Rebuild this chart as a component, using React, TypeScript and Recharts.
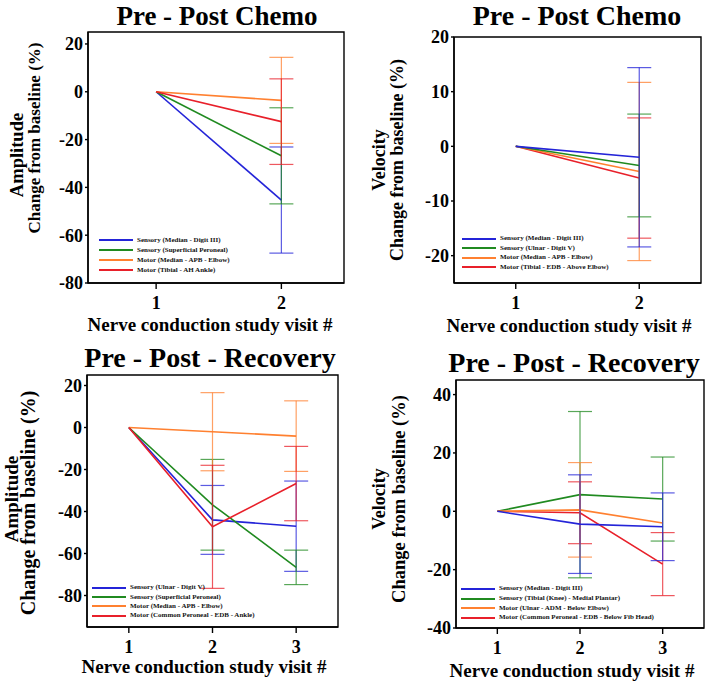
import React from 'react';
import { LineChart, Line, XAxis, YAxis, ErrorBar, Legend, Label, ReferenceArea } from 'recharts';

// ---------- data ----------
const SERIES_COLORS = ['#2424d8', '#208a20', '#ff8030', '#e8202a'];

const visitsChemo = [1, 2];
const visitsRecovery = [1, 2, 3];

// Panel A: Amplitude, Pre - Post Chemo
const ampChemoNames = [
  'Sensory (Median - Digit III)',
  'Sensory (Superficial Peroneal)',
  'Motor (Median - APB - Elbow)',
  'Motor (Tibial - AH Ankle)',
];
const ampChemoMean = [
  [0, -45.3],
  [0, -26.8],
  [0, -3.6],
  [0, -12.5],
];
const ampChemoErr = [
  [null, 22.2],
  [null, 20.1],
  [null, 18.0],
  [null, 17.9],
];

// Panel B: Velocity, Pre - Post Chemo
const velChemoNames = [
  'Sensory (Median - Digit III)',
  'Sensory (Ulnar - Digit V)',
  'Motor (Median - APB - Elbow)',
  'Motor (Tibial - EDB - Above Elbow)',
];
const velChemoMean = [
  [0, -2.0],
  [0, -3.5],
  [0, -4.6],
  [0, -5.8],
];
const velChemoErr = [
  [null, 16.4],
  [null, 9.4],
  [null, 16.3],
  [null, 11.0],
];

// Panel C: Amplitude, Pre - Post - Recovery
const ampRecNames = [
  'Sensory (Ulnar - Digit V)',
  'Sensory (Superficial Peroneal)',
  'Motor (Median - APB - Elbow)',
  'Motor (Common Peroneal - EDB - Ankle)',
];
const ampRecMean = [
  [0, -44.0, -47.0],
  [0, -36.8, -66.6],
  [0, -2.0, -4.1],
  [0, -47.3, -26.7],
];
const ampRecErr = [
  [null, 16.4, 21.5],
  [null, 21.6, 8.2],
  [null, 18.6, 16.8],
  [null, 29.3, 17.7],
];

// Panel D: Velocity, Pre - Post - Recovery
const velRecNames = [
  'Sensory (Median - Digit III)',
  'Sensory (Tibial (Knee) - Medial Plantar)',
  'Motor (Ulnar - ADM - Below Elbow)',
  'Motor (Common Peroneal - EDB - Below Fib Head)',
];
const velRecMean = [
  [0, -4.4, -5.3],
  [0, 5.7, 4.2],
  [0, 0.5, -4.0],
  [0, -0.5, -18.1],
];
const velRecErr = [
  [null, 16.9, 11.6],
  [null, 28.5, 14.4],
  [null, 16.2, null],
  [null, 10.6, 10.8],
];

const ampTicks = [-80, -60, -40, -20, 0, 20];
const velChemoTicks = [-20, -10, 0, 10, 20];
const velRecTicks = [-40, -20, 0, 20, 40];

const titleChemo = 'Pre - Post Chemo';
const titleRec = 'Pre - Post - Recovery';
const xTitle = 'Nerve conduction study visit #';
const ampTitle = ['Amplitude', 'Change from baseline (%)'];
const velTitle = ['Velocity', 'Change from baseline (%)'];

function buildRows(visits: number[], means: number[][], errs: (number | null)[][]) {
  return visits.map((v, i) => {
    const row: Record<string, number | null> = { visit: v };
    means.forEach((s, k) => {
      row['m' + k] = s[i];
      row['e' + k] = errs[k][i];
    });
    return row;
  });
}

// ---------- styling ----------
const SERIF = "'Liberation Serif', 'Times New Roman', serif";

type PanelProps = {
  left: number;
  top: number;
  width: number;
  height: number;
  margin: { top: number; right: number; bottom: number; left: number };
  data: Record<string, number | null>[];
  names: string[];
  drawOrder: number[];
  xDomain: [number, number];
  xTicks: number[];
  yDomain: [number, number];
  yTicks: number[];
  title: string;
  titlePos: { x: number; y: number; size: number };
  xTitlePos: { x: number; y: number };
  yTitle: string[];
  yTitlePos: { xs: number[]; cys: number[]; sizes: number[] };
  legendPos: { left: number; top: number; rowH: number };
};

function Panel(p: PanelProps) {
  const TitleContent = () => (
    <text
      x={p.titlePos.x}
      y={p.titlePos.y}
      textAnchor="middle"
      fontFamily={SERIF}
      fontWeight="bold"
      fontSize={p.titlePos.size}
      fill="#000"
    >
      {p.title}
    </text>
  );
  const XTitleContent = () => (
    <text
      x={p.xTitlePos.x}
      y={p.xTitlePos.y}
      textAnchor="middle"
      fontFamily={SERIF}
      fontWeight="bold"
      fontSize={19}
      fill="#000"
    >
      {xTitle}
    </text>
  );
  const YTitleContent = () => (
    <g>
      {p.yTitle.map((t, i) => (
        <text
          key={i}
          x={p.yTitlePos.xs[i]}
          y={p.yTitlePos.cys[i]}
          transform={`rotate(-90 ${p.yTitlePos.xs[i]} ${p.yTitlePos.cys[i]})`}
          textAnchor="middle"
          dominantBaseline="central"
          fontFamily={SERIF}
          fontWeight="bold"
          fontSize={p.yTitlePos.sizes[i]}
          fill="#000"
        >
          {t}
        </text>
      ))}
    </g>
  );
  const LegendContent = () => (
    <div style={{ fontFamily: SERIF, fontWeight: 'bold', fontSize: 7, color: '#111' }}>
      {p.names.map((name, i) => (
        <div
          key={i}
          style={{ display: 'flex', alignItems: 'center', height: p.legendPos.rowH, whiteSpace: 'nowrap' }}
        >
          <div style={{ width: 34, height: 0, borderTop: `2px solid ${SERIES_COLORS[i]}` }} />
          <span style={{ marginLeft: 4, lineHeight: 1 }}>{name}</span>
        </div>
      ))}
    </div>
  );

  const tickStyle = { fontFamily: SERIF, fontWeight: 'bold', fontSize: 18, fill: '#000' } as any;

  return (
    <div style={{ position: 'absolute', left: p.left, top: p.top, width: p.width, height: p.height }}>
      <LineChart width={p.width} height={p.height} data={p.data} margin={p.margin}>
        <XAxis
          dataKey="visit"
          type="number"
          domain={p.xDomain}
          ticks={p.xTicks}
          allowDataOverflow
          height={30}
          tickSize={6}
          tickMargin={7}
          stroke="#000"
          strokeWidth={1.4}
          tick={tickStyle}
        >
          <Label content={<XTitleContent />} />
        </XAxis>
        <YAxis
          type="number"
          domain={p.yDomain}
          ticks={p.yTicks}
          allowDataOverflow
          width={40}
          tickSize={3}
          tickMargin={2}
          stroke="#000"
          strokeWidth={1.4}
          tick={tickStyle}
        >
          <Label content={<YTitleContent />} />
        </YAxis>
        <ReferenceArea
          x1={p.xDomain[0]}
          x2={p.xDomain[1]}
          y1={p.yDomain[0]}
          y2={p.yDomain[1]}
          fill="none"
          fillOpacity={0}
          stroke="#000"
          strokeWidth={1.4}
          ifOverflow="visible"
          label={<TitleContent />}
        />
        <Legend
          layout="vertical"
          align="center"
          verticalAlign="middle"
          content={<LegendContent />}
          wrapperStyle={{ left: p.legendPos.left, top: p.legendPos.top, width: 'auto', height: 'auto' }}
        />
        {p.drawOrder.map((k) => (
          <Line
            key={k}
            type="linear"
            dataKey={'m' + k}
            name={p.names[k]}
            stroke={SERIES_COLORS[k]}
            strokeWidth={1.6}
            dot={false}
            activeDot={false}
            isAnimationActive={false}
          >
            <ErrorBar
              dataKey={'e' + k}
              width={12}
              stroke={SERIES_COLORS[k]}
              strokeWidth={1.2}
              strokeOpacity={0.75}
              isAnimationActive={false}
            />
          </Line>
        ))}
      </LineChart>
    </div>
  );
}

export default function App() {
  return (
    <div style={{ position: 'absolute', left: 0, top: 0, width: 709, height: 682, background: '#fff', overflow: 'hidden' }}>
      <Panel
        left={0}
        top={0}
        width={354}
        height={340}
        margin={{ top: 32, right: 10, bottom: 27, left: 48 }}
        data={buildRows(visitsChemo, ampChemoMean, ampChemoErr)}
        names={ampChemoNames}
        drawOrder={[0, 1, 2, 3]}
        xDomain={[0.456, 2.5]}
        xTicks={visitsChemo}
        yDomain={[-80, 25]}
        yTicks={ampTicks}
        title={titleChemo}
        titlePos={{ x: 217, y: 25, size: 27 }}
        xTitlePos={{ x: 210, y: 331 }}
        yTitle={ampTitle}
        yTitlePos={{ xs: [17, 34], cys: [155, 138], sizes: [18.5, 17] }}
        legendPos={{ left: 99, top: 235, rowH: 10 }}
      />
      <Panel
        left={354}
        top={0}
        width={355}
        height={340}
        margin={{ top: 37, right: 8, bottom: 27, left: 60 }}
        data={buildRows(visitsChemo, velChemoMean, velChemoErr)}
        names={velChemoNames}
        drawOrder={[3, 2, 1, 0]}
        xDomain={[0.5, 2.5]}
        xTicks={visitsChemo}
        yDomain={[-25, 20]}
        yTicks={velChemoTicks}
        title={titleChemo}
        titlePos={{ x: 223, y: 25, size: 28 }}
        xTitlePos={{ x: 215, y: 332 }}
        yTitle={velTitle}
        yTitlePos={{ xs: [25, 43], cys: [160, 160], sizes: [18, 18] }}
        legendPos={{ left: 108, top: 234, rowH: 9.5 }}
      />
      <Panel
        left={0}
        top={340}
        width={354}
        height={342}
        margin={{ top: 35, right: 16, bottom: 25, left: 47 }}
        data={buildRows(visitsRecovery, ampRecMean, ampRecErr)}
        names={ampRecNames}
        drawOrder={[0, 1, 2, 3]}
        xDomain={[0.5, 3.5]}
        xTicks={visitsRecovery}
        yDomain={[-95, 25]}
        yTicks={ampTicks}
        title={titleRec}
        titlePos={{ x: 210, y: 27, size: 28 }}
        xTitlePos={{ x: 204, y: 333 }}
        yTitle={ampTitle}
        yTitlePos={{ xs: [11, 28], cys: [159, 163], sizes: [19, 20] }}
        legendPos={{ left: 92, top: 243, rowH: 9.4 }}
      />
      <Panel
        left={354}
        top={340}
        width={355}
        height={342}
        margin={{ top: 40, right: 5, bottom: 24, left: 62 }}
        data={buildRows(visitsRecovery, velRecMean, velRecErr)}
        names={velRecNames}
        drawOrder={[1, 3, 2, 0]}
        xDomain={[0.5, 3.5]}
        xTicks={visitsRecovery}
        yDomain={[-40, 45]}
        yTicks={velRecTicks}
        title={titleRec}
        titlePos={{ x: 220, y: 32, size: 28 }}
        xTitlePos={{ x: 218, y: 337 }}
        yTitle={velTitle}
        yTitlePos={{ xs: [25, 45], cys: [159, 159], sizes: [18, 18.5] }}
        legendPos={{ left: 107, top: 244, rowH: 9.7 }}
      />
    </div>
  );
}
